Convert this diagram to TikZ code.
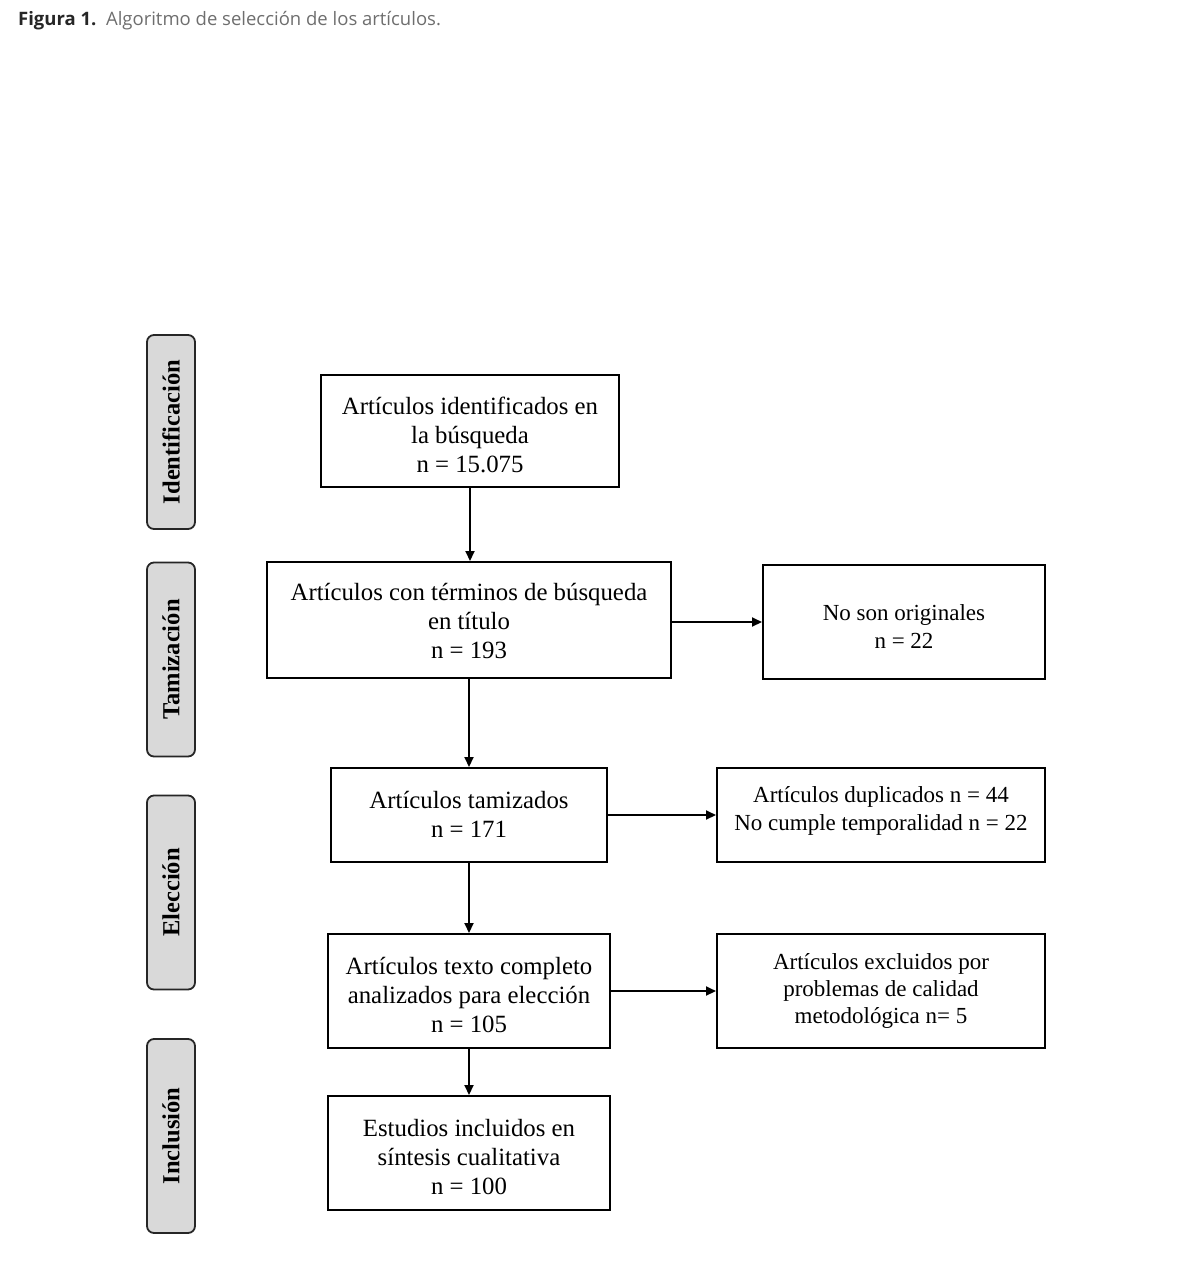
\documentclass[tikz,border=0pt]{standalone}
\usepackage{fontspec}
\setmainfont{Liberation Serif}
\newfontfamily\capfont{Open Sans}
\usetikzlibrary{arrows.meta}
\definecolor{sidegray}{HTML}{D9D9D9}
\definecolor{captgray}{HTML}{6E6E6E}
\begin{document}
\begin{tikzpicture}[x=1pt,y=-1pt,
  box/.style={draw=black, line width=2pt, inner sep=0pt},
  txt/.style={align=center, inner sep=0pt, font=\fontsize{24.8}{29}\selectfont},
  stxt/.style={align=center, inner sep=0pt, font=\fontsize{23}{28}\selectfont},
  side/.style={draw=black!85, line width=1.8pt, rounded corners=7pt, fill=sidegray,
    minimum width=48pt, minimum height=194pt},
  sidetext/.style={rotate=90, font=\bfseries\fontsize{24.5}{26}\selectfont},
  arr/.style={line width=2pt, -{Triangle[length=10pt,width=9pt]}}]
\useasboundingbox (0,0) rectangle (1186,1267);
\node[anchor=west, font=\capfont\fontsize{18.5}{20}\selectfont, text=captgray, inner sep=0pt] (cap) at (18,21)
  {\textcolor{black!85}{\bfseries Figura 1.}\ \ Algoritmo de selección de los artículos.};
% side labels
\node[side] (s1) at (171,432) {};
\node[sidetext] at (s1) {Identificación};
\node[side] (s2) at (171,659.5) {};
\node[sidetext] at (s2) {Tamización};
\node[side] (s3) at (171,892.5) {};
\node[sidetext] at (s3) {Elección};
\node[side] (s4) at (171,1136) {};
\node[sidetext] at (s4) {Inclusión};
% main boxes
\node[box, minimum width=298pt, minimum height=112pt] (b1) at (470,431) {};
\node[txt] (t1) at (470,435) {Artículos identificados en\\la búsqueda\\n = 15.075};
\node[box, minimum width=404pt, minimum height=116pt] (b2) at (469,620) {};
\node[txt] (t2) at (469,621) {Artículos con términos de búsqueda\\en título\\n = 193};
\node[box, minimum width=282pt, minimum height=114pt] (n1) at (904,622) {};
\node[stxt] (tn1) at (904,627) {No son originales\\n = 22};
\node[box, minimum width=276pt, minimum height=94pt] (b3) at (469,815) {};
\node[txt] (t3) at (469,814) {Artículos tamizados\\n = 171};
\node[box, minimum width=328pt, minimum height=94pt] (n2) at (881,815) {};
\node[stxt] (tn2) at (881,811) {Artículos duplicados n = 44\\No cumple temporalidad n = 22};
\node[box, minimum width=282pt, minimum height=114pt] (b4) at (469,991) {};
\node[txt] (t4) at (469,995) {Artículos texto completo\\analizados para elección\\n = 105};
\node[box, minimum width=328pt, minimum height=114pt] (n3) at (881,991) {};
\node[stxt, font=\fontsize{23}{27}\selectfont] (tn3) at (881,991) {Artículos excluidos por\\problemas de calidad\\metodológica n= 5};
\node[box, minimum width=282pt, minimum height=114pt] (b5) at (469,1153) {};
\node[txt] (t5) at (469,1157) {Estudios incluidos en\\síntesis cualitativa\\n = 100};
% arrows
\draw[arr] (b1.south) -- (b1.south |- b2.north);
\draw[arr] (b2.south) -- (b2.south |- b3.north);
\draw[arr] (b3.south) -- (b3.south |- b4.north);
\draw[arr] (b4.south) -- (b4.south |- b5.north);
\draw[arr] (b2.east |- n1.west) -- (n1.west);
\draw[arr] (b3.east) -- (b3.east -| n2.west);
\draw[arr] (b4.east) -- (b4.east -| n3.west);
\end{tikzpicture}
\end{document}
